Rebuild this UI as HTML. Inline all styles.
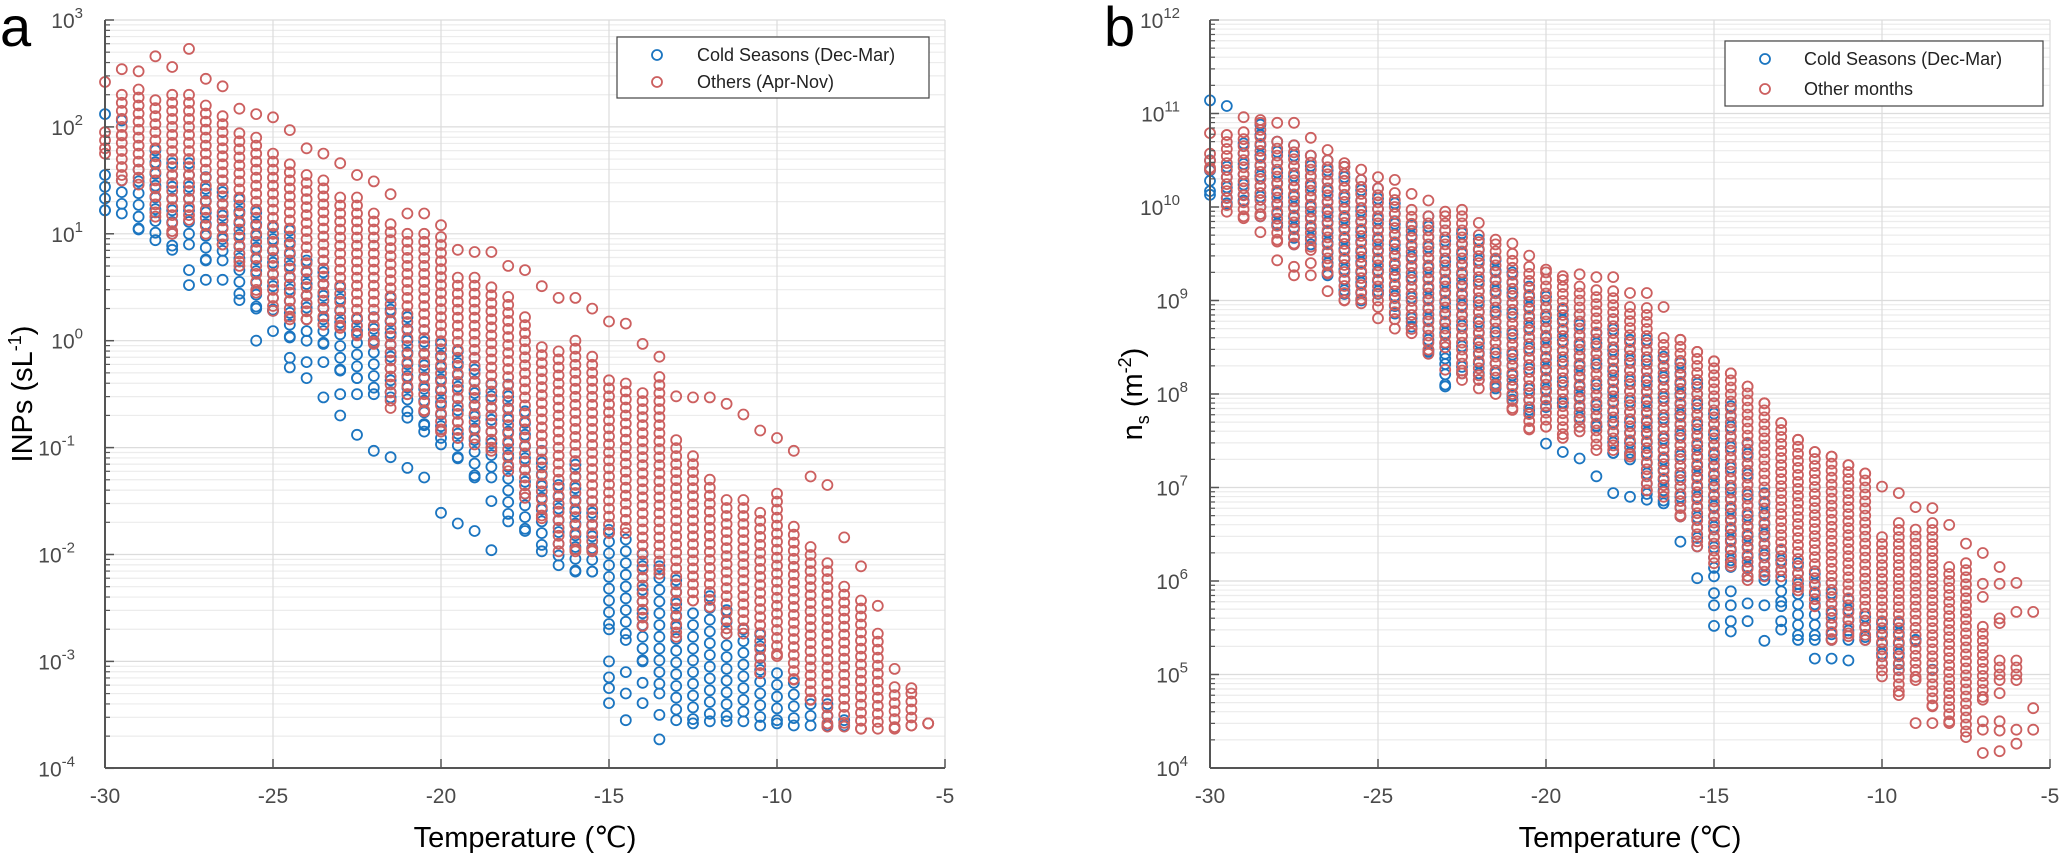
<!DOCTYPE html>
<html><head><meta charset="utf-8"><style>
html,body{margin:0;padding:0;background:#fff;}
svg{display:block;font-family:"Liberation Sans",Arial,sans-serif;}
</style></head><body>
<svg id="chart" width="2067" height="860" viewBox="0 0 2067 860" xmlns="http://www.w3.org/2000/svg">
<rect width="2067" height="860" fill="#fff"/>
<g id="gridA"></g>
<g id="gridB"></g>
<g id="ptsA"></g>
<g id="ptsB"></g>
<g id="axA"></g>
<g id="axB"></g>
<text x="0" y="46" font-size="56" fill="#000">a</text>
<text x="1104" y="46" font-size="56" fill="#000">b</text>
<text x="525" y="847" font-size="29" text-anchor="middle" fill="#000">Temperature (℃)</text>
<text x="1630" y="847" font-size="29" text-anchor="middle" fill="#000">Temperature (℃)</text>
<text transform="translate(32,394) rotate(-90)" font-size="29" text-anchor="middle" fill="#000">INPs (sL<tspan font-size="18" dy="-11">-1</tspan><tspan dy="11">)</tspan></text>
<text transform="translate(1142,394) rotate(-90)" font-size="29" text-anchor="middle" fill="#000">n<tspan font-size="18" dy="7">s</tspan><tspan dy="-7"> (m</tspan><tspan font-size="18" dy="-11">-2</tspan><tspan dy="11">)</tspan></text>
<g>
<rect x="617" y="37" width="312" height="61" fill="#fff" stroke="#444" stroke-width="1.2"/>
<circle cx="657" cy="55" r="5" fill="none" stroke="#1b75c0" stroke-width="1.8"/>
<text x="697" y="61" font-size="18" fill="#222">Cold Seasons (Dec-Mar)</text>
<circle cx="657" cy="82" r="5" fill="none" stroke="#cc5f5f" stroke-width="1.8"/>
<text x="697" y="88" font-size="18" fill="#222">Others (Apr-Nov)</text>
</g>
<g>
<rect x="1725" y="41" width="318" height="65" fill="#fff" stroke="#444" stroke-width="1.2"/>
<circle cx="1765" cy="59" r="5" fill="none" stroke="#1b75c0" stroke-width="1.8"/>
<text x="1804" y="65" font-size="18" fill="#222">Cold Seasons (Dec-Mar)</text>
<circle cx="1765" cy="89" r="5" fill="none" stroke="#cc5f5f" stroke-width="1.8"/>
<text x="1804" y="95" font-size="18" fill="#222">Other months</text>
</g>
</svg>
<script>
const tempsA = [-30,-29.5,-29,-28.5,-28,-27.5,-27,-26.5,-26,-25.5,-25,-24.5,-24,-23.5,-23,-22.5,-22,-21.5,-21,-20.5,-20,-19.5,-19,-18.5,-18,-17.5,-17,-16.5,-16,-15.5,-15,-14.5,-14,-13.5,-13,-12.5,-12,-11.5,-11,-10.5,-10,-9.5,-9,-8.5,-8,-7.5,-7,-6.5,-6,-5.5];
const redMaxA = [2.42,2.54,2.52,2.66,2.56,2.73,2.45,2.38,2.17,2.12,2.09,1.97,1.8,1.75,1.66,1.55,1.49,1.37,1.19,1.19,1.08,0.85,0.83,0.83,0.7,0.66,0.51,0.4,0.4,0.3,0.18,0.16,-0.03,-0.15,-0.52,-0.53,-0.53,-0.59,-0.69,-0.84,-0.91,-1.03,-1.27,-1.35,-1.84,-2.11,-2.48,-3.07,-3.25,-3.58];
const redHiA = [1.95,2.3,2.35,2.25,2.3,2.3,2.2,2.1,1.94,1.9,1.75,1.65,1.55,1.5,1.34,1.34,1.19,1.09,1.0,1.0,0.97,0.59,0.59,0.5,0.41,0.22,-0.06,-0.1,0.0,-0.15,-0.37,-0.4,-0.49,-0.34,-0.93,-1.08,-1.3,-1.49,-1.49,-1.61,-1.43,-1.74,-1.93,-2.08,-2.3,-2.43,-2.74,-3.24,-3.3,-3.58];
const redLoA = [1.75,1.5,1.46,1.16,1.0,1.13,1.0,0.9,0.7,0.45,0.28,0.2,0.2,0.15,0.12,0.05,-0.03,-0.63,-0.5,-0.66,-0.85,-0.91,-0.97,-1.03,-1.22,-1.47,-1.66,-1.97,-1.97,-1.97,-1.8,-1.8,-2.67,-2.18,-2.77,-2.43,-2.49,-2.74,-2.74,-3.11,-2.95,-3.17,-3.36,-3.61,-3.61,-3.63,-3.63,-3.63,-3.6,-3.58];
const blueHiA = [1.55,1.5,1.6,1.78,1.66,1.66,1.53,1.5,1.32,1.2,1.06,1.03,0.75,0.75,0.5,0.2,0.22,0.4,0.22,0.1,-0.03,-0.1,-0.16,-0.41,-0.41,-0.66,-1.03,-1.35,-1.16,-1.5,-1.77,-1.86,-2.0,-2.11,-2.24,-2.55,-2.39,-2.52,-2.7,-2.75,-3.11,-3.2,-3.4,-3.4,-3.55,null,null,null,null,null];
const blueLoA = [1.22,1.19,1.04,0.94,0.85,0.9,0.75,0.75,0.38,0.3,0.28,0.03,0.0,-0.03,-0.28,-0.35,-0.5,-0.53,-0.72,-0.79,-0.97,-1.1,-1.28,-1.28,-1.69,-1.78,-1.97,-2.1,-2.16,-2.16,-2.7,-2.8,-3.0,-3.3,-3.55,-3.58,-3.56,-3.56,-3.56,-3.6,-3.58,-3.6,-3.6,-3.6,-3.6,null,null,null,null,null];
const blueOutA = [[2.12],[2.06],[],[],[],[0.66,0.52],[0.57],[0.57],[],[0.0],[0.09],[-0.16,-0.25],[-0.2,-0.35],[-0.2,-0.53],[-0.5,-0.7],[-0.5,-0.88],[-1.03],[-1.09],[-1.19],[-0.85,-1.28],[-1.61],[-1.71],[-1.78],[-1.5,-1.96],[],[],[],[],[],[],[-3.0,-3.15,-3.25,-3.39],[-3.1,-3.3,-3.55],[-3.2,-3.39],[-3.5,-3.73],[],[],[],[],[],[],[],[],[],[],[],[],[],[],[],[]];
const redOutA = [[],[1.92],[],[],[],[],[],[],[],[],[],[],[],[],[],[],[],[],[],[],[],[],[],[],[],[],[],[],[],[],[],[],[],[],[],[],[],[],[],[],[],[],[],[],[],[],[],[],[],[]];

const tempsB = [-30,-29.5,-29,-28.5,-28,-27.5,-27,-26.5,-26,-25.5,-25,-24.5,-24,-23.5,-23,-22.5,-22,-21.5,-21,-20.5,-20,-19.5,-19,-18.5,-18,-17.5,-17,-16.5,-16,-15.5,-15,-14.5,-14,-13.5,-13,-12.5,-12,-11.5,-11,-10.5,-10,-9.5,-9,-8.5,-8,-7.5,-7,-6.5,-6,-5.5];
const redMaxB = [10.79,10.77,10.96,10.93,10.9,10.9,10.74,10.61,10.47,10.4,10.32,10.29,10.14,10.07,9.95,9.97,9.83,9.65,9.61,9.48,9.33,9.26,9.28,9.25,9.25,9.08,9.08,8.93,8.58,8.45,8.35,8.22,8.08,7.9,7.69,7.51,7.38,7.33,7.24,7.15,7.01,6.94,6.79,6.78,6.6,6.4,6.3,6.15,5.98,5.67];
const redHiB = [10.57,10.77,10.8,10.9,10.7,10.66,10.55,10.5,10.43,10.29,10.2,10.15,9.97,9.9,9.9,9.9,9.7,9.6,9.5,9.36,9.3,9.22,9.15,9.11,9.1,8.93,8.92,8.6,8.58,8.45,8.35,8.22,8.08,7.9,7.69,7.51,7.38,7.33,7.24,7.15,6.47,6.62,6.55,6.62,6.15,6.19,5.51,5.15,5.15,null];
const redLoB = [10.4,9.95,9.88,9.9,9.63,9.6,9.54,9.29,9.0,8.97,8.93,8.8,8.65,8.43,8.5,8.22,8.15,8.08,7.83,7.62,7.65,7.53,7.6,7.4,7.4,7.33,6.97,6.9,6.69,6.37,6.19,6.16,6.01,6.05,6.05,5.9,5.73,5.37,5.41,5.37,4.98,4.78,4.94,4.66,4.48,4.33,4.73,4.94,4.94,null];
const blueHiB = [10.5,10.43,10.68,10.88,10.7,10.66,10.55,10.5,10.43,10.29,10.2,10.04,9.8,9.9,9.75,9.72,9.65,9.43,9.3,9.15,9.04,8.9,8.85,8.65,8.8,8.58,8.58,8.4,8.33,8.11,7.9,7.87,7.47,6.94,6.33,6.19,6.08,5.98,5.8,5.62,5.55,5.55,5.37,5.05,null,null,null,null,null,null];
const blueLoB = [10.13,10.04,10.07,9.9,9.8,9.6,9.6,9.27,9.07,9.0,9.07,8.86,8.72,8.45,8.08,8.22,8.15,8.06,7.94,7.8,7.86,7.9,7.65,7.65,7.37,7.3,6.87,6.83,6.69,6.37,6.05,6.15,6.05,6.01,5.73,5.37,5.37,5.37,5.37,5.37,5.12,5.05,5.37,5.05,null,null,null,null,null,null];
const blueOutB = [[11.14],[11.08],[],[],[],[],[],[],[],[],[],[],[],[],[8.38],[],[],[],[],[],[7.47],[7.38],[7.31],[7.12],[6.94],[6.9],[],[],[6.42],[6.03],[5.87,5.74,5.52],[5.89,5.74,5.57,5.46],[5.76,5.57],[5.74,5.36],[5.57,5.48],[],[5.17],[5.17],[5.15],[],[],[],[],[],[],[],[],[],[],[]];
const redOutB = [[],[],[],[9.73],[9.43],[9.36,9.27],[9.4,9.27],[9.1],[],[],[8.81],[8.7],[],[],[8.26],[8.15],[8.06],[8.0],[],[],[],[],[],[],[],[],[],[],[],[],[],[],[],[],[],[],[],[],[],[],[],[],[4.48],[4.48],[],[],[5.97,5.83,4.5,4.41,4.16],[5.97,5.6,5.55,4.8,4.5,4.4,4.18],[5.67,4.41,4.26],[4.64,4.41]];

const NS = 'http://www.w3.org/2000/svg';
const BOTTOM = 768, TOP = 20;
function xA(t){ return 105 + (t + 30) * 33.6; }
function yA(v){ return TOP + (3 - v) * 106.9; }
function xB(t){ return 1210 + (t + 30) * 33.6; }
function yB(v){ return TOP + (12 - v) * 93.5; }

function mk(tag, attrs, parent){
  const el = document.createElementNS(NS, tag);
  for (const k in attrs) el.setAttribute(k, attrs[k]);
  parent.appendChild(el);
  return el;
}

function drawGrid(g, x0, x1, vmin, vmax, yf, xf, xticks){
  for (let d = vmin; d < vmax; d++){
    for (let k = 2; k <= 9; k++){
      const y = yf(d + Math.log10(k));
      const ln = mk('line', {x1:x0, x2:x1, y1:y, y2:y, stroke:'#ececec', 'stroke-width':1.2}, g);
      
      
    }
  }
  for (let d = vmin; d <= vmax; d++){
    const y = yf(d);
    const ln = mk('line', {x1:x0, x2:x1, y1:y, y2:y, stroke:'#dcdcdc', 'stroke-width':1.2}, g);
    
    
  }
  xticks.forEach(t => {
    const x = xf(t);
    const ln = mk('line', {x1:x, x2:x, y1:TOP, y2:BOTTOM, stroke:'#dcdcdc', 'stroke-width':1.2}, g);
    
    
  });
}

function drawAxes(g, x0, x1, vmin, vmax, yf, xf, xticks, tag){
  const la = mk('line', {x1:x0, x2:x0, y1:TOP, y2:BOTTOM, stroke:'#555', 'stroke-width':2}, g);
  
  
  const ba = mk('line', {x1:x0, x2:x1, y1:BOTTOM, y2:BOTTOM, stroke:'#555', 'stroke-width':2}, g);
  
  
  for (let d = vmin; d <= vmax; d++){
    const y = yf(d);
    const tk = mk('line', {x1:x0, x2:x0 + 9, y1:y, y2:y, stroke:'#555', 'stroke-width':1.5}, g);
    
    
    if (d < vmax){
      for (let k = 2; k <= 9; k++){
        const ym = yf(d + Math.log10(k));
        const mt = mk('line', {x1:x0, x2:x0 + 5, y1:ym, y2:ym, stroke:'#555', 'stroke-width':1.2}, g);
        
        
      }
    }
    const tx = mk('text', {y:y + 8, 'font-size':21, fill:'#4a4a4a', 'text-anchor':'end'}, g);
    
    
    tx.textContent = '10';
    const sp = mk('tspan', {'font-size':15, dy:-10}, tx);
    sp.textContent = String(d);
    tx.setAttribute('x', x0 - 14 - (String(d).length * 8));
  }
  xticks.forEach(t => {
    const x = xf(t);
    const tk = mk('line', {x1:x, x2:x, y1:BOTTOM, y2:BOTTOM - 9, stroke:'#555', 'stroke-width':1.5}, g);
    
    
    const tx = mk('text', {x:x, y:803, 'font-size':21, fill:'#4a4a4a', 'text-anchor':'middle'}, g);
    
    
    tx.textContent = String(t);
  });
}

function dot(g, x, y, color, name){
  const c = mk('circle', {cx:x.toFixed(1), cy:y.toFixed(1), r:5, fill:'none', stroke:color, 'stroke-width':1.8}, g);
  
  
}

function drawSeries(g, temps, rMax, rHi, rLo, rOut, bHi, bLo, bOut, xf, yf){
  const RED = '#cc5f5f', BLUE = '#1b75c0';
  temps.forEach((t, i) => {
    const x = xf(t);
    if (bHi[i] !== null){
      for (let v = bHi[i]; v >= bLo[i] - 1e-9; v -= 0.11) dot(g, x, yf(v), BLUE, 'point-cold');
      dot(g, x, yf(bLo[i]), BLUE, 'point-cold');
    }
    bOut[i].forEach(v => dot(g, x, yf(v), BLUE, 'point-cold'));
  });
  temps.forEach((t, i) => {
    const x = xf(t);
    dot(g, x, yf(rMax[i]), RED, 'point-others');
    if (rHi[i] !== null){
      for (let v = rHi[i]; v >= rLo[i] - 1e-9; v -= 0.075) dot(g, x, yf(v), RED, 'point-others');
      dot(g, x, yf(rLo[i]), RED, 'point-others');
    }
    rOut[i].forEach(v => dot(g, x, yf(v), RED, 'point-others'));
  });
}

const xticks = [-30,-25,-20,-15,-10,-5];
drawGrid(document.getElementById('gridA'), 105, 945, -4, 3, yA, xA, xticks);
drawGrid(document.getElementById('gridB'), 1210, 2050, 4, 12, yB, xB, xticks);
drawSeries(document.getElementById('ptsA'), tempsA, redMaxA, redHiA, redLoA, redOutA, blueHiA, blueLoA, blueOutA, xA, yA);
drawSeries(document.getElementById('ptsB'), tempsB, redMaxB, redHiB, redLoB, redOutB, blueHiB, blueLoB, blueOutB, xB, yB);
drawAxes(document.getElementById('axA'), 105, 945, -4, 3, yA, xA, xticks, 'a');
drawAxes(document.getElementById('axB'), 1210, 2050, 4, 12, yB, xB, xticks, 'b');
</script>
</body></html>
